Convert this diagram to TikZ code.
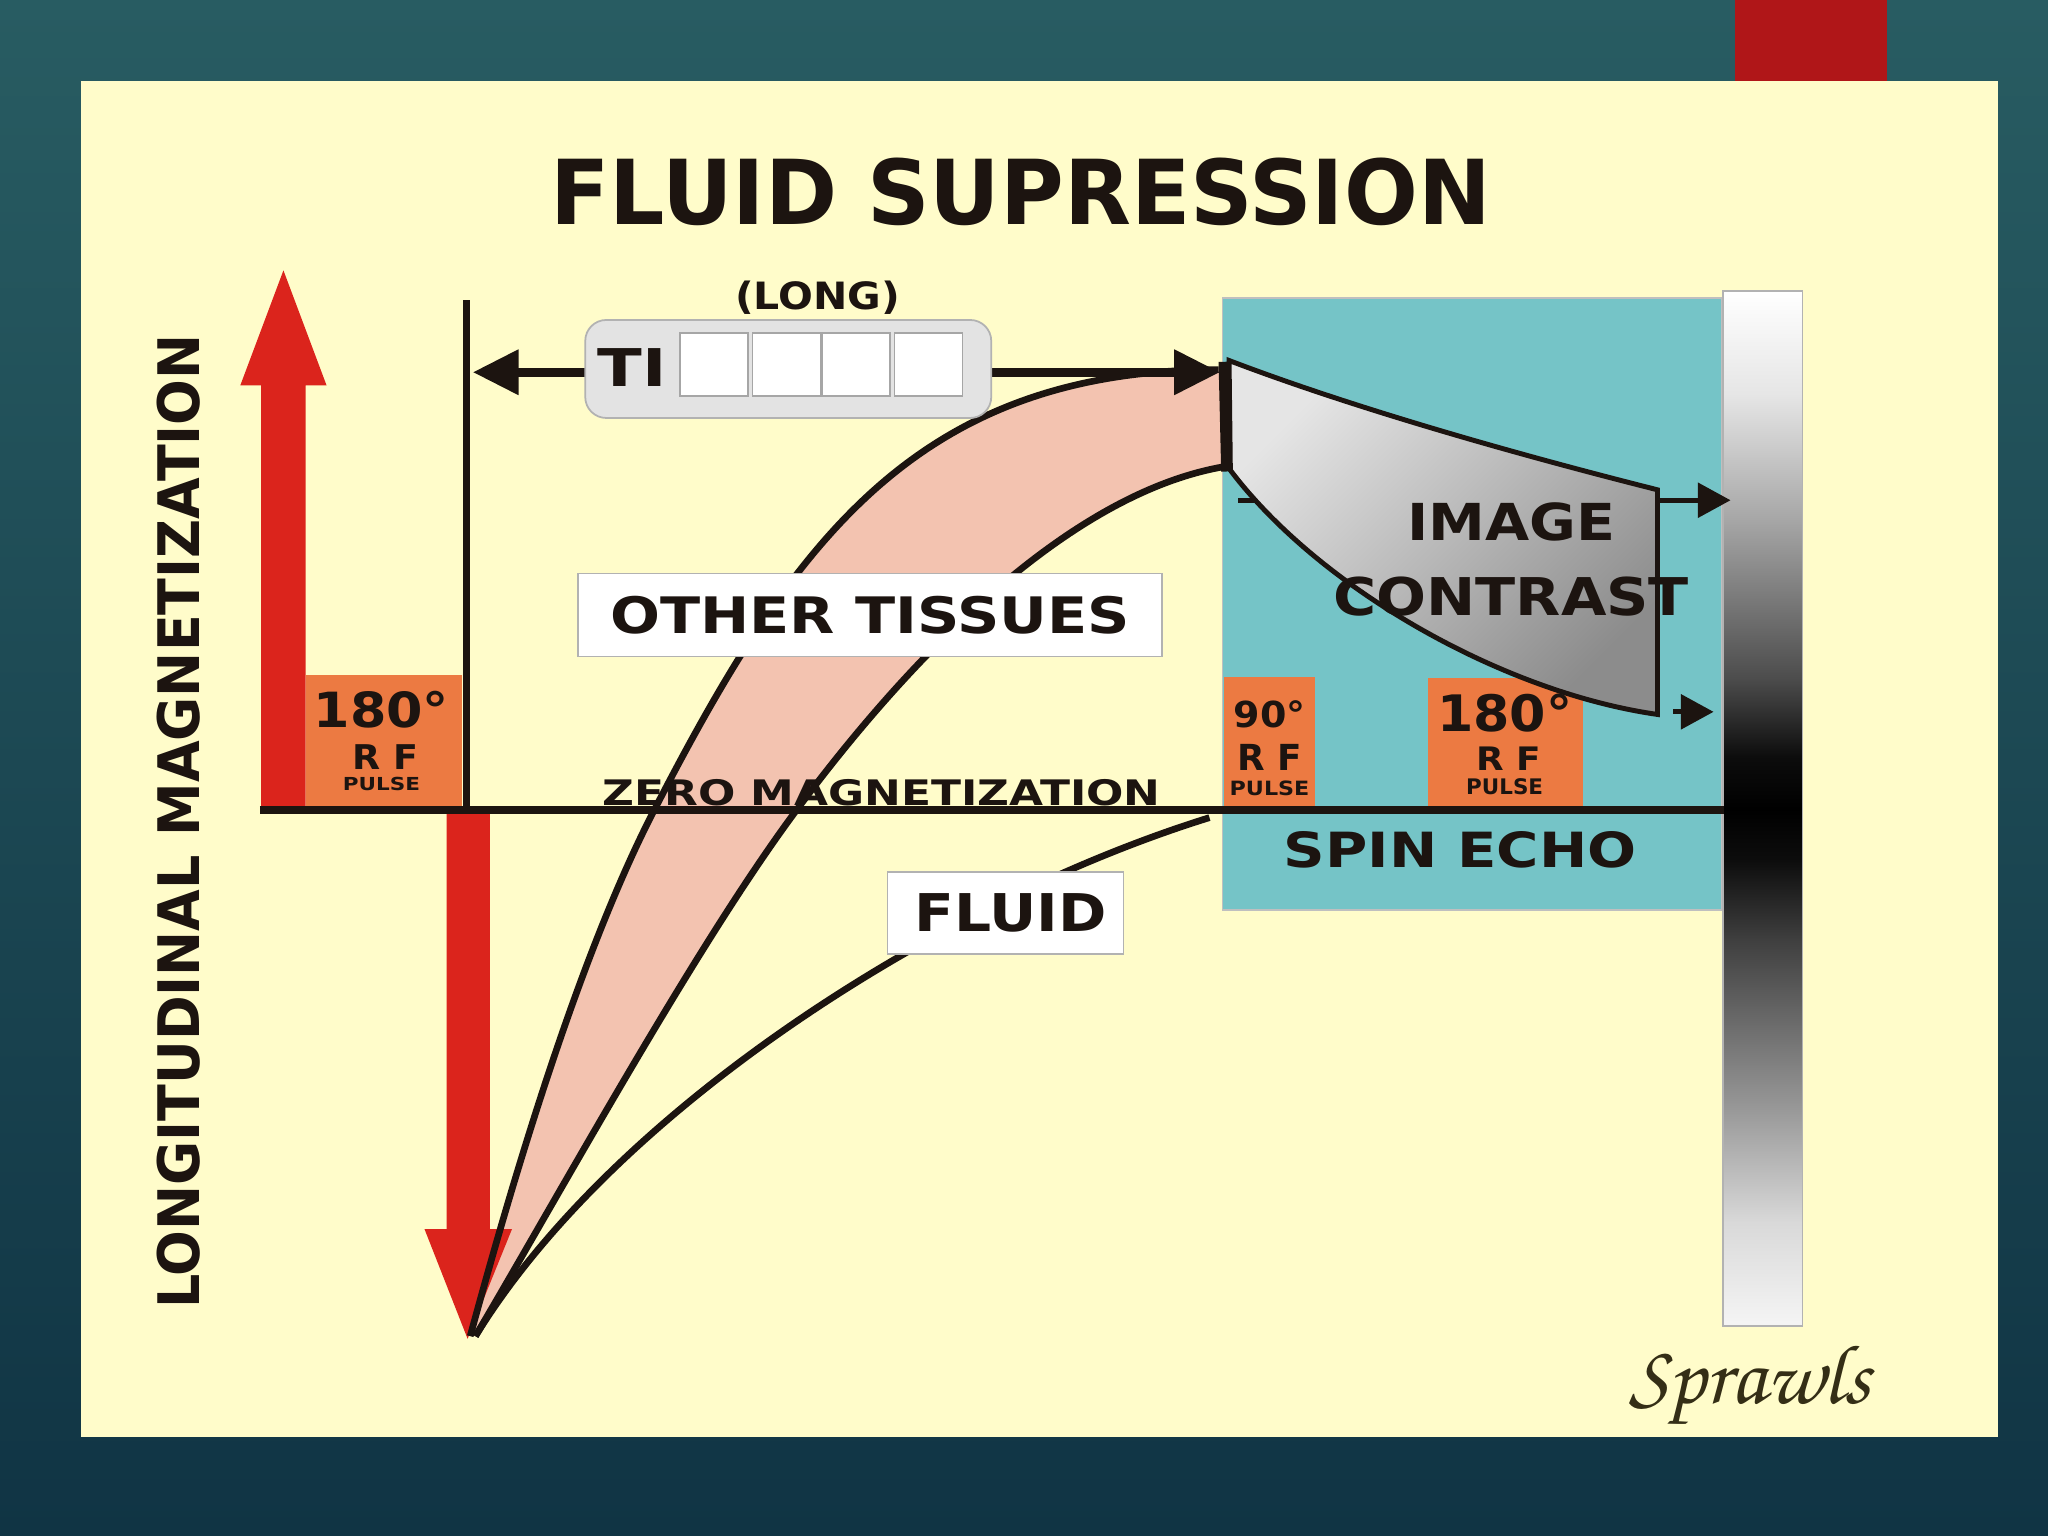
\documentclass[tikz,border=0pt]{standalone}
\usepackage{fontspec}
\setmainfont{DejaVu Sans}
\usepackage{graphicx}
\usetikzlibrary{arrows.meta,calc,positioning,shadings}

\definecolor{slidetop}{RGB}{40,92,98}
\definecolor{slidebot}{RGB}{16,52,68}
\definecolor{tabred}{RGB}{176,22,24}
\definecolor{panel}{RGB}{255,252,202}
\definecolor{echoblue}{RGB}{117,196,199}
\definecolor{tissue}{RGB}{243,195,176}
\definecolor{pulse}{RGB}{236,122,66}
\definecolor{magred}{RGB}{219,36,28}
\definecolor{ink}{RGB}{28,20,16}
\definecolor{signink}{RGB}{52,46,22}

% grey scale strip (tikz fits the path to 25bp..75bp)
\pgfdeclareverticalshading{graybar}{100bp}{color(0bp)=(black!4); color(25bp)=(black!4); color(30bp)=(black!15); color(35.4bp)=(black!40); color(43.6bp)=(black!75); color(47.5bp)=(black!95); color(50bp)=(black); color(52.5bp)=(black!95); color(56.3bp)=(black!70); color(63.9bp)=(black!35); color(70bp)=(black!10); color(75bp)=(white); color(100bp)=(white)}

\newcommand{\txtlab}[3]{{\fontsize{#1}{#1}\selectfont\bfseries\scalebox{#2}[1]{#3}}}

\tikzset{
  curve/.style={draw=ink,line width=1.9pt},
  labelbox/.style={draw=black!30,fill=white,line width=0.4pt,inner sep=0pt,text=ink},
  tislot/.style={draw=black!35,fill=white,line width=0.4pt,minimum width=0.68cm,minimum height=0.63cm,inner sep=0pt},
  txt/.style={anchor=base,inner sep=0pt,text=ink},
  outarrow/.style={ink,line width=1.5pt,-{Triangle[length=9.3pt,width=9.7pt]}}
}

\begin{document}
\begin{tikzpicture}[x=0.01306cm,y=-0.01306cm]
  % slide
  \useasboundingbox (0,0) rectangle (1568,1176);
  \shade[top color=slidetop,bottom color=slidebot] (0,0) rectangle (1568,1176);
  \fill[tabred] (1328,0) rectangle (1445,62);
  \fill[panel] (62,62) rectangle (1530,1100);

  % spin echo window and grey scale
  \fill[echoblue] (936,228) rectangle (1318,697);
  \draw[black!25,line width=0.5pt] (936,228) rectangle (1318,697);
  \shade[shading=graybar] (1319,223) rectangle (1380,1015);
  \draw[black!30,line width=0.5pt] (1319,223) rectangle (1380,1015);

  % other tissues band
  \fill[tissue] (360,1023) .. controls (391,909) and (442.5,733) .. (501,620)
    .. controls (606,417) and (700,283) .. (933,283) -- (939,357)
    .. controls (829,375) and (711,484) .. (610,620)
    .. controls (534,722) and (433,906) .. (364,1023) -- cycle;

  % RF pulses
  \fill[pulse] (234,517) rectangle (354,617);
  \fill[pulse] (937,518) rectangle (1007,617);
  \fill[pulse] (1093,519) rectangle (1212,617);

  % magnetization arrows
  \fill[magred] (200,617) -- (200,295) -- (184,295) -- (217,207) -- (250,295) -- (234,295) -- (234,617) -- cycle;
  \fill[magred] (342,621) -- (342,941) -- (325,941) -- (358,1025) -- (392,941) -- (375,941) -- (375,621) -- cycle;

  % axes
  \coordinate (z0) at (199,620);
  \coordinate (z1) at (1320,620);
  \coordinate (v0) at (357,230);
  \coordinate (v1) at (357,620);
  \draw[ink,line width=2.2pt] (z0) -- (z1);
  \draw[ink,line width=1.9pt] (v0) -- (v1);

  \node[txt] (zero) at (675,617) {\txtlab{10}{1.25}{ZERO MAGNETIZATION}};

  % recovery curves
  \draw[curve] (360,1023) .. controls (391,909) and (442.5,733) .. (501,620)
    .. controls (606,417) and (700,283) .. (933,283);
  \draw[curve] (364,1023) .. controls (433,906) and (534,722) .. (610,620)
    .. controls (711,484) and (829,375) .. (939,357);
  \draw[curve] (364,1023) .. controls (470,850) and (720,690) .. (926,626);

  \node[labelbox,minimum width=5.84cm,minimum height=0.83cm] (tissues) at (666,471) {\txtlab{14.3}{1.17}{OTHER TISSUES}};
  \node[labelbox,minimum width=2.36cm,minimum height=0.82cm] (fluid) at (770,699) {\txtlab{14.8}{1.12}{\,FLUID}};

  % image contrast
  \shadedraw[top color=black!10,bottom color=black!45,shading angle=45,draw=ink,line width=1.4pt]
    (941,276) .. controls (1030,310) and (1150,345) .. (1269,375) -- (1269,547)
    .. controls (1150,530) and (1010,450) .. (942,360) -- cycle;
  \draw[ink,line width=3pt] (937,277) -- (939,361);
  \draw[ink,line width=1.5pt] (948,383) -- (961,383);

  \coordinate (c1) at (1269,383);
  \coordinate (c1e) at (1325,383);
  \coordinate (c2) at (1281,545);
  \coordinate (c2e) at (1312,545);
  \draw[outarrow] (c1) -- (c1e);
  \draw[outarrow] (c2) -- (c2e);

  \node[txt] (image) at (1157,413.5) {\txtlab{14.5}{1.12}{IMAGE}};
  \node[txt] (contrast) at (1157,471) {\txtlab{14.8}{1.13}{CONTRAST}};
  \node[txt] (spin) at (1118,664) {\txtlab{13.8}{1.19}{SPIN ECHO}};

  % inversion time
  \coordinate (tiL) at (362,285);
  \coordinate (tiR) at (934,285);
  \draw[ink,line width=2.6pt,{Triangle[length=13pt,width=12.3pt]}-{Triangle[length=13pt,width=12.3pt]}] (tiL) -- (tiR);
  \node[draw=black!30,fill=black!11,line width=0.5pt,rounded corners=0.21cm,minimum width=4.06cm,minimum height=0.98cm] (tibox) at (603.5,282.5) {};
  \foreach \i/\x in {1/546.5,2/602,3/655.5,4/711}
    \node[tislot] (slot\i) at (\x,279) {};
  \node[txt] (ti) at (484,296) {\txtlab{14.8}{1.26}{TI}};
  \node[txt] (long) at (626,237) {\txtlab{10.7}{1.09}{(LONG)}};

  % pulse labels
  \node[txt] (p1deg) at (292,557) {\txtlab{13.8}{1.08}{180°}};
  \node[txt] (p1rf) at (295,589) {\txtlab{9.7}{1.07}{R F}};
  \node[txt] (p1pl) at (292,605) {\txtlab{5.1}{1.2}{PULSE}};
  \node[txt] (p2deg) at (972,557) {\txtlab{10.2}{1.06}{90°}};
  \node[txt] (p2rf) at (972,590) {\txtlab{10.2}{1.0}{R F}};
  \node[txt] (p2pl) at (972,609) {\txtlab{5.6}{1.13}{PULSE}};
  \node[txt] (p3deg) at (1152,560) {\txtlab{14.3}{1.04}{180°}};
  \node[txt] (p3rf) at (1155,590) {\txtlab{9.2}{1.11}{R F}};
  \node[txt] (p3pl) at (1152,608) {\txtlab{6.1}{1.0}{PULSE}};

  % titles
  \node[txt] (title) at (781.5,172) {\txtlab{25.5}{0.97}{FLUID SUPRESSION}};
  \node[txt,rotate=90] (ylab) at (153,629) {\txtlab{16.3}{0.94}{LONGITUDINAL MAGNETIZATION}};
  \node[text=signink] (sig) at (1340,1062) {\fontencoding{OT1}\fontfamily{pzc}\fontseries{mb}\fontshape{it}\fontsize{24}{24}\selectfont Sprawls};
\end{tikzpicture}
\end{document}
